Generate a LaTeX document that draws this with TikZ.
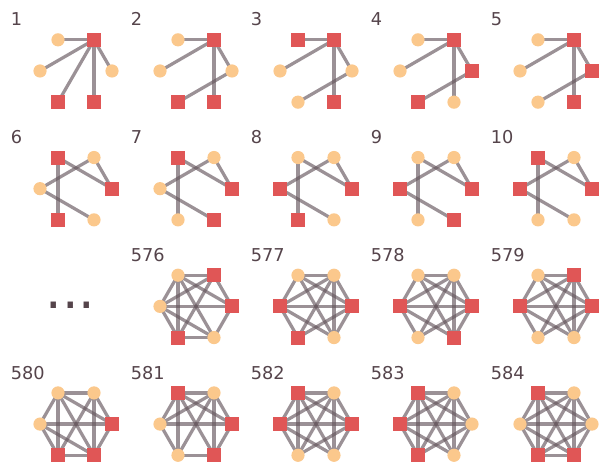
\documentclass[tikz,border=0pt]{standalone}
\usepackage{fontspec}
\setsansfont{DejaVu Sans}
\usepackage{xcolor}
\usetikzlibrary{positioning}

\definecolor{vorange}{RGB}{251,200,140}
\definecolor{vred}{RGB}{224,86,86}
\definecolor{vedge}{RGB}{101,86,93}
\definecolor{vtext}{RGB}{85,68,75}

\pgfdeclarelayer{background}
\pgfsetlayers{background,main}

% one small graph: column, row, number, vertex kinds (0..5), edges
\newcommand{\gcell}[5]{%
  \begin{scope}[shift={(120*#1,117.7*#2)}]
    \node[idx] (lab#3) at (10.5,26) {#3};
    \foreach \t [count=\k from 0] in {#4}
      \node[\t] (n#3-\k) at ({76+36*cos(60*\k)},{71-36*sin(60*\k)}) {};
    \begin{pgfonlayer}{background}
      \foreach \a/\b in {#5}
        \draw[edge] (n#3-\a.center) -- (n#3-\b.center);
    \end{pgfonlayer}
  \end{scope}}

\begin{document}
\begin{tikzpicture}[
    x=0.025cm, y=-0.025cm,
    font=\sffamily,
    % vertex kinds
    rnd/.style={circle, fill=vorange, minimum size=0.33cm, inner sep=0pt},
    sq/.style={rectangle, fill=vred, minimum size=0.35cm, inner sep=0pt},
    edge/.style={draw=vedge, draw opacity=0.65, line width=2.3pt},
    idx/.style={anchor=base west, inner sep=0pt, text=vtext, font=\fontsize{12.6}{15}\selectfont\sffamily}
  ]
  \useasboundingbox (0,0) rectangle (600,465);

  % --- row 1: trees ---
  \gcell{0}{0}{1}{rnd,sq,rnd,rnd,sq,sq}{1/2,1/3,1/4,1/5,1/0}
  \gcell{1}{0}{2}{rnd,sq,rnd,rnd,sq,sq}{1/2,1/3,1/5,1/0,0/4}
  \gcell{2}{0}{3}{rnd,sq,sq,rnd,rnd,sq}{1/2,1/3,1/0,1/5,0/4}
  \gcell{3}{0}{4}{sq,sq,rnd,rnd,sq,rnd}{1/2,1/3,1/0,1/5,0/4}
  \gcell{4}{0}{5}{sq,sq,rnd,rnd,rnd,sq}{1/2,1/3,1/0,1/5,0/4}

  % --- row 2: paths ---
  \gcell{0}{1}{6}{sq,rnd,sq,rnd,sq,rnd}{2/4,2/0,1/0,1/3,3/5}
  \gcell{1}{1}{7}{sq,rnd,sq,rnd,rnd,sq}{2/4,2/0,1/0,1/3,3/5}
  \gcell{2}{1}{8}{sq,rnd,rnd,sq,sq,rnd}{2/4,2/0,1/0,1/3,3/5}
  \gcell{3}{1}{9}{sq,rnd,rnd,sq,rnd,sq}{2/4,2/0,1/0,1/3,3/5}
  \gcell{4}{1}{10}{sq,rnd,sq,sq,rnd,rnd}{2/4,2/0,1/0,1/3,3/5}

  % --- gap ---
  \node[text=vtext, font=\fontsize{37}{40}\selectfont\sffamily, anchor=base] (gap) at (70.5,309) {...};

  % --- rows 3 and 4: almost complete ---
  \gcell{1}{2}{576}{sq,sq,rnd,rnd,sq,rnd}{0/1,0/2,0/3,0/5,1/2,1/3,1/4,2/3,2/4,2/5,3/4,3/5,4/5}
  \gcell{2}{2}{577}{sq,rnd,rnd,sq,sq,rnd}{0/1,0/2,0/3,0/4,0/5,1/2,1/3,1/4,1/5,2/3,2/5,3/4,3/5}
  \gcell{3}{2}{578}{sq,rnd,rnd,sq,rnd,sq}{0/1,0/2,0/3,0/4,0/5,1/2,1/3,1/4,1/5,2/3,2/5,3/4,3/5}
  \gcell{4}{2}{579}{sq,sq,rnd,sq,rnd,rnd}{0/1,0/2,0/3,0/4,0/5,1/2,1/3,1/4,1/5,2/3,2/5,3/4,3/5}
  \gcell{0}{3}{580}{sq,rnd,rnd,rnd,sq,sq}{0/1,0/2,0/3,0/5,1/2,1/4,1/5,2/3,2/4,2/5,3/4,3/5,4/5}
  \gcell{1}{3}{581}{sq,rnd,sq,rnd,rnd,sq}{0/1,0/2,0/3,0/5,1/2,1/3,1/4,1/5,2/3,2/4,2/5,3/4,4/5}
  \gcell{2}{3}{582}{sq,rnd,sq,sq,rnd,rnd}{0/1,0/2,0/3,0/4,0/5,1/2,1/3,1/4,1/5,2/3,2/4,2/5,3/4,3/5}
  \gcell{3}{3}{583}{rnd,rnd,sq,sq,sq,rnd}{0/1,0/2,0/3,0/4,0/5,1/2,1/3,1/4,1/5,2/3,2/4,2/5,3/4,3/5}
  \gcell{4}{3}{584}{rnd,rnd,sq,rnd,sq,sq}{0/1,0/2,0/3,0/4,0/5,1/2,1/3,1/4,1/5,2/3,2/4,2/5,3/4,3/5,4/5}
\end{tikzpicture}
\end{document}
